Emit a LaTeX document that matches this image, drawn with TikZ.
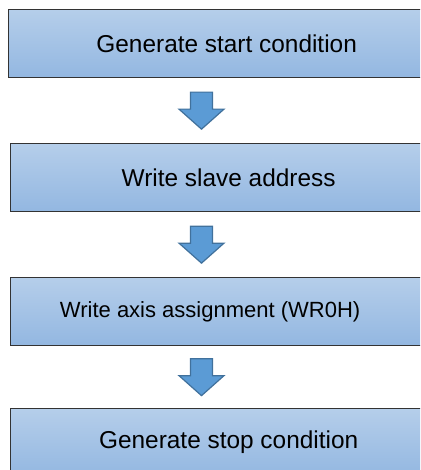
\documentclass[tikz,border=0pt]{standalone}
\usepackage{fontspec}
\setmainfont{Liberation Sans}
\usepackage{tikz}
\usetikzlibrary{positioning,calc}
\definecolor{boxtop}{HTML}{B5CEEA}
\definecolor{boxbot}{HTML}{93B7E1}
\definecolor{arrfill}{HTML}{5B9BD5}
\definecolor{arrline}{HTML}{41719C}

\begin{document}
\begin{tikzpicture}[x=1pt,y=-1pt,
  every node/.style={font=\fontsize{24.4}{29}\selectfont},
  stepbox/.style={draw=black!80,line width=1.3pt,top color=boxtop,bottom color=boxbot,
    anchor=north west,minimum width=436pt,minimum height=68pt,inner sep=0pt},
  blockarr/.pic={\draw[fill=arrfill,draw=arrline,line width=1.2pt,line join=miter]
    (-11,-18.5) -- (11,-18.5) -- (11,-1.5) -- (22.5,-1.5) -- (0,18.5)
    -- (-22.5,-1.5) -- (-11,-1.5) -- cycle;}]
\useasboundingbox (0,0) rectangle (420,470);
\clip (0,0) rectangle (420,470);
\node[stepbox] (start) at (8,9)   {Generate start condition};
\node[stepbox] (addr)  at (10,143) {Write slave address};
\node[stepbox,font=\fontsize{22}{26}\selectfont] (axis) at (10,277)
  {Write axis assignment (WR0H)\hspace*{37pt}};
\node[stepbox] (stop)  at (10,408) {Generate stop condition};
% arrows between the steps
\pic at ($(start.south-|201.5,0)!0.5!(addr.north-|201.5,0)$) {blockarr};
\pic at ($(addr.south-|201.5,0)!0.5!(axis.north-|201.5,0)$) {blockarr};
\pic at ($(axis.south-|201.5,0)!0.5!(stop.north-|201.5,0)$) {blockarr};
\end{tikzpicture}
\end{document}
